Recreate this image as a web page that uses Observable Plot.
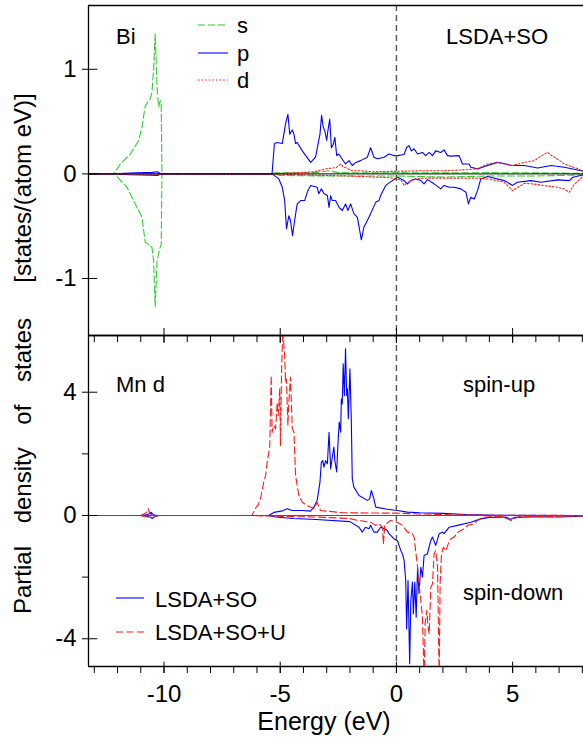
<!DOCTYPE html>
<html><head><meta charset="utf-8">
<script src="https://cdn.jsdelivr.net/npm/d3@7"></script>
<script src="https://cdn.jsdelivr.net/npm/@observablehq/plot@0.6"></script>
<style>
body{margin:0;background:#fff;}
#wrap{position:relative;width:583px;height:737px;overflow:hidden;background:#fff;}
#wrap svg{display:block;}
#overlay{position:absolute;left:0;top:0;pointer-events:none;}
</style></head><body><div id="wrap"></div>
<script>
const FONT = '"Liberation Sans", Arial, Helvetica, sans-serif';

// ---------- axes / ticks ----------
const X_DOMAIN = [-13.25, 8.05];
const X_MAJOR = [-10, -5, 0, 5];
const X_MINOR = [-13,-12,-11,-10,-9,-8,-7,-6,-5,-4,-3,-2,-1,0,1,2,3,4,5,6,7,8];
const BI_Y_DOMAIN = [-1.545, 1.61];
const BI_Y_TICKS = [-1, 0, 1];
const MN_Y_DOMAIN = [-4.9, 5.84];
const MN_Y_TICKS = [-4, 0, 4];
const MN_Y_MINOR = [-2, 2];

// ---------- Bi panel (LSDA+SO) : [energy eV, PDOS] ----------
const bi_s_up = [[-13.25,0],[-12.17,0],[-11.88,0.095],[-11.45,0.19],[-11.09,0.32],[-10.95,0.445],[-10.81,0.65],[-10.59,0.72],[-10.52,0.78],[-10.45,0.99],[-10.38,1.34],[-10.30,0.83],[-10.23,0.64],[-10.16,0.70],[-10.12,0.66],[-10.09,0],[-5.4,0],[-5.2,0.01],[-3.5,0.012],[-2.9,0.03],[-2.5,0.012],[-1,0.01],[0,0.012],[2,0.01],[4,0.012],[6,0.01],[8.05,0.005]];
const bi_s_dn = [[-13.25,0],[-12.14,0],[-11.59,-0.128],[-11.31,-0.255],[-10.95,-0.415],[-10.81,-0.653],[-10.52,-0.70],[-10.45,-0.83],[-10.38,-1.27],[-10.30,-0.83],[-10.19,-0.72],[-10.12,-0.67],[-10.09,0],[-5.4,0],[-5.0,-0.015],[-3.0,-0.02],[0,-0.02],[1,-0.025],[2,-0.03],[4,-0.02],[6,-0.02],[8.05,-0.01]];
const bi_p_up = [[-13.25,0],[-12.1,0],[-11.5,0.008],[-10.5,0.015],[-10.3,0.02],[-10.1,0],[-5.4,0],[-5.35,0.006],[-5.25,0.29],[-5.13,0.30],[-4.91,0.29],[-4.77,0.48],[-4.67,0.57],[-4.59,0.38],[-4.48,0.42],[-4.41,0.38],[-4.34,0.29],[-4.27,0.30],[-4.05,0.22],[-3.69,0.11],[-3.48,0.16],[-3.29,0.38],[-3.22,0.56],[-3.15,0.45],[-3.08,0.41],[-3.00,0.32],[-2.95,0.41],[-2.87,0.525],[-2.80,0.25],[-2.72,0.28],[-2.65,0.35],[-2.57,0.175],[-2.48,0.19],[-2.33,0.14],[-2.19,0.095],[-2.04,0.127],[-1.90,0.08],[-1.75,0.11],[-1.54,0.127],[-1.25,0.16],[-1.11,0.25],[-0.97,0.16],[-0.82,0.145],[-0.53,0.16],[-0.32,0.19],[-0.1,0.175],[0.04,0.175],[0.33,0.185],[0.44,0.255],[0.54,0.27],[0.65,0.22],[0.76,0.24],[0.91,0.19],[1.12,0.205],[1.26,0.175],[1.41,0.205],[1.55,0.175],[1.69,0.22],[1.91,0.205],[2.05,0.23],[2.20,0.175],[2.34,0.17],[2.70,0.175],[2.84,0.095],[3.13,0.095],[3.20,0.064],[3.49,0.048],[3.92,0.08],[4.35,0.11],[4.71,0.095],[4.96,0.08],[5.50,0.08],[6.08,0.057],[6.65,0.08],[7.22,0.064],[7.80,0.038],[8.05,0.025]];
const bi_p_dn = [[-13.25,0],[-12.1,0],[-11.5,-0.008],[-10.5,-0.012],[-10.3,-0.015],[-10.1,0],[-5.4,0],[-5.35,0],[-5.06,-0.048],[-4.91,-0.128],[-4.81,-0.255],[-4.73,-0.525],[-4.63,-0.40],[-4.56,-0.446],[-4.47,-0.59],[-4.38,-0.446],[-4.27,-0.287],[-4.12,-0.255],[-3.95,-0.255],[-3.81,-0.16],[-3.69,-0.11],[-3.41,-0.128],[-3.34,-0.19],[-3.23,-0.143],[-3.11,-0.19],[-2.97,-0.207],[-2.90,-0.32],[-2.83,-0.207],[-2.76,-0.255],[-2.62,-0.255],[-2.47,-0.32],[-2.33,-0.35],[-2.19,-0.287],[-2.09,-0.35],[-1.97,-0.287],[-1.83,-0.38],[-1.68,-0.415],[-1.51,-0.63],[-1.40,-0.51],[-1.25,-0.446],[-1.11,-0.38],[-0.89,-0.27],[-0.75,-0.255],[-0.68,-0.207],[-0.46,-0.11],[-0.17,-0.064],[0.04,-0.032],[0.33,-0.064],[0.47,-0.095],[0.62,-0.064],[0.83,-0.048],[1.05,-0.064],[1.19,-0.095],[1.34,-0.055],[1.62,-0.095],[1.91,-0.143],[2.05,-0.11],[2.27,-0.127],[2.48,-0.127],[2.77,-0.143],[2.99,-0.175],[3.10,-0.287],[3.20,-0.223],[3.35,-0.24],[3.49,-0.16],[3.63,-0.048],[3.92,-0.025],[4.64,-0.064],[5.0,-0.11],[5.2,-0.08],[5.79,-0.064],[6.22,-0.08],[6.94,-0.057],[7.44,-0.064],[7.59,-0.032],[8.05,-0.01]];
const bi_d_up = [[-13.25,0],[-5.4,0],[-4.5,0.01],[-3.55,0.02],[-3.0,0.05],[-2.6,0.06],[-2.4,0.095],[-2.3,0.07],[-2.19,0.06],[-1.9,0.03],[-1.54,0.03],[-1.0,0.02],[0,0.025],[1,0.03],[2,0.03],[3,0.04],[3.5,0.05],[3.92,0.095],[4.35,0.11],[5.0,0.08],[5.5,0.11],[5.94,0.127],[6.15,0.16],[6.5,0.207],[6.65,0.18],[6.94,0.14],[7.22,0.095],[7.8,0.05],[8.05,0.02]];
const bi_d_dn = [[-13.25,0],[-5.4,0],[-4.0,-0.01],[-2.0,-0.02],[-1.0,-0.03],[-0.3,-0.035],[0.2,-0.06],[0.33,-0.11],[0.5,-0.08],[0.8,-0.05],[1.2,-0.04],[2.0,-0.04],[3.0,-0.04],[3.5,-0.04],[4.0,-0.05],[4.64,-0.08],[5.0,-0.16],[5.5,-0.09],[5.9,-0.096],[6.3,-0.11],[6.9,-0.127],[7.2,-0.143],[7.44,-0.175],[7.65,-0.1],[8.05,-0.02]];

// ---------- Mn d panel : [energy eV, PDOS] ----------
const mn_so_up = [[-13.25,0],[-11,0],[-10.7,0.03],[-10.55,0.1],[-10.45,0.02],[-10.3,0],[-5.5,0],[-5.27,0.1],[-4.9,0.15],[-4.70,0.22],[-4.5,0.16],[-4.05,0.16],[-3.7,0.14],[-3.55,0.27],[-3.41,0.49],[-3.29,1.08],[-3.23,1.73],[-3.17,1.78],[-3.12,1.57],[-3.05,1.78],[-2.97,1.68],[-2.90,2.70],[-2.83,1.51],[-2.76,1.89],[-2.69,2.22],[-2.65,1.78],[-2.57,1.41],[-2.52,2.27],[-2.46,3.03],[-2.40,2.70],[-2.37,3.78],[-2.33,3.62],[-2.29,4.92],[-2.24,3.89],[-2.19,5.41],[-2.14,3.89],[-2.11,4.11],[-2.07,3.14],[-2.0,4.76],[-1.94,3.03],[-1.90,1.19],[-1.83,0.92],[-1.61,0.65],[-1.25,0.49],[-1.15,0.54],[-1.08,0.81],[-0.97,0.54],[-0.89,0.27],[-0.4,0.2],[0.04,0.16],[0.47,0.11],[1.0,0.09],[2.0,0.07],[3.0,0.03],[3.5,0.02],[4.5,0.01],[8.05,0]];
const mn_so_dn = [[-13.25,0],[-11,0],[-10.6,-0.05],[-10.5,-0.1],[-10.4,-0.03],[-10.2,0],[-5.5,0],[-5.2,-0.05],[-4.45,-0.1],[-3.45,-0.13],[-2.0,-0.2],[-1.61,-0.38],[-1.47,-0.54],[-1.33,-0.38],[-1.18,-0.43],[-1.11,-0.32],[-0.97,-0.54],[-0.82,-0.54],[-0.68,-0.38],[-0.54,-0.43],[-0.39,-0.49],[-0.32,-0.59],[-0.10,-0.76],[0.04,-0.81],[0.19,-1.14],[0.26,-1.25],[0.33,-1.46],[0.40,-2.11],[0.44,-3.68],[0.50,-2.11],[0.57,-4.81],[0.62,-2.76],[0.69,-2.16],[0.73,-3.19],[0.79,-2.16],[0.85,-3.30],[0.91,-1.68],[0.97,-2.54],[1.05,-1.68],[1.12,-2.0],[1.19,-1.30],[1.33,-1.25],[1.48,-0.81],[1.55,-0.70],[1.69,-0.97],[1.84,-0.59],[1.98,-0.54],[2.05,-0.59],[2.27,-0.38],[2.63,-0.32],[3.20,-0.22],[3.63,-0.11],[4.0,-0.06],[4.7,-0.05],[4.93,-0.12],[5.1,-0.06],[6.0,-0.04],[7.0,-0.05],[8.05,-0.02]];
const mn_u_up = [[-13.25,0],[-11,0],[-10.75,0.1],[-10.68,0.22],[-10.6,0.05],[-10.4,0],[-6.22,0],[-6.05,0.25],[-5.95,0.35],[-5.85,0.55],[-5.71,1.08],[-5.63,1.30],[-5.56,1.73],[-5.49,2.05],[-5.45,2.27],[-5.39,4.54],[-5.35,2.70],[-5.28,2.92],[-5.20,2.81],[-5.13,3.67],[-5.09,3.24],[-5.02,4.11],[-4.99,2.27],[-4.94,4.76],[-4.89,6.0],[-4.81,5.19],[-4.77,4.32],[-4.73,4.43],[-4.67,2.92],[-4.63,3.67],[-4.56,4.49],[-4.48,2.81],[-4.41,2.70],[-4.34,1.30],[-4.27,0.97],[-4.20,0.65],[-4.05,0.43],[-3.84,0.32],[-3.55,0.22],[-3.41,0.42],[-3.26,0.16],[-2.3,0.09],[-1.0,0.08],[0,0.075],[1,0.05],[2,0.03],[3,0.02],[4,0.01],[8.05,0]];
const mn_u_dn = [[-13.25,0],[-11,0],[-10.7,-0.05],[-10.5,-0.08],[-10.3,0],[-6.2,0],[-5.0,-0.03],[-3.4,-0.05],[-2.0,-0.1],[-1.68,-0.16],[-1.11,-0.22],[-0.9,-0.32],[-0.75,-0.27],[-0.6,-0.38],[-0.56,-0.92],[-0.5,-0.3],[-0.43,-0.27],[-0.25,-0.16],[0.04,-0.22],[0.26,-0.32],[0.47,-0.54],[0.69,-0.59],[0.76,-0.70],[0.91,-1.68],[0.97,-2.22],[1.05,-2.76],[1.12,-3.30],[1.19,-5.3],[1.24,-3.5],[1.31,-3.08],[1.36,-3.62],[1.41,-3.84],[1.48,-2.33],[1.55,-2.22],[1.62,-1.25],[1.69,-1.14],[1.77,-1.68],[1.84,-5.3],[1.88,-2.22],[1.94,-1.25],[2.02,-1.03],[2.13,-1.14],[2.23,-0.92],[2.34,-0.76],[2.48,-0.70],[2.63,-0.55],[2.77,-0.49],[2.92,-0.43],[3.06,-0.32],[3.35,-0.27],[3.49,-0.16],[3.78,-0.05],[4.5,-0.03],[4.93,-0.16],[5.07,-0.1],[5.3,-0.03],[6.5,-0.03],[8.05,-0.02]];

const rows = (arr, spin) => arr.map(([E, v]) => ({E, v, spin}));
const pair = (up, dn) => rows(up, "up").concat(rows(dn, "dn"));

const BLACK = "#000";
const lineOpts = (stroke, dash) => ({x: "E", y: "v", z: "spin", stroke, strokeWidth: 1.1, strokeDasharray: dash, clip: true});
const tf = d => String(d);

// ---------- top panel ----------
const topPlot = Plot.plot({
  width: 583, height: 335,
  marginLeft: 88, marginRight: 0, marginTop: 5, marginBottom: 0,
  x: {domain: X_DOMAIN, axis: null},
  y: {domain: BI_Y_DOMAIN, label: null},
  style: {fontFamily: FONT, background: "transparent", overflow: "visible", color: "#000"},
  marks: [
    Plot.line(pair(bi_s_up, bi_s_dn), lineOpts("#33cc33", "7,3")),
    Plot.line(pair(bi_p_up, bi_p_dn), lineOpts("#0000ff", null)),
    Plot.line(pair(bi_d_up, bi_d_dn), lineOpts("#ff2020", "1.6,2")),
    Plot.ruleY([0], {stroke: BLACK, strokeWidth: 1}),
    Plot.ruleX([0], {stroke: "#555", strokeDasharray: "6,4", strokeWidth: 1.4}),
    Plot.ruleX([X_DOMAIN[0]], {stroke: BLACK, strokeWidth: 1.3}),
    Plot.ruleY([BI_Y_DOMAIN[1]], {stroke: BLACK, strokeWidth: 1.3}),
    Plot.ruleY([BI_Y_DOMAIN[0]], {stroke: BLACK, strokeWidth: 1.3}),
    Plot.ruleY(BI_Y_TICKS, {x1: X_DOMAIN[0] - 0.26, x2: X_DOMAIN[0] + 0.4, stroke: BLACK, strokeWidth: 1}),
    Plot.ruleX(X_MAJOR, {y1: BI_Y_DOMAIN[0], y2: BI_Y_DOMAIN[0] + 0.067, stroke: BLACK, strokeWidth: 1}),
    Plot.axisY(BI_Y_TICKS, {tickSize: 0, tickPadding: 12, fontSize: 24, tickFormat: tf, label: null})
  ]
});

// ---------- bottom panel ----------
const botPlot = Plot.plot({
  width: 583, height: 402,
  marginLeft: 88, marginRight: 0, marginTop: 0, marginBottom: 71,
  x: {domain: X_DOMAIN, label: null},
  y: {domain: MN_Y_DOMAIN, label: null},
  style: {fontFamily: FONT, background: "transparent", overflow: "visible", color: "#000"},
  marks: [
    Plot.line(pair(mn_so_up, mn_so_dn), lineOpts("#0000ff", null)),
    Plot.line(pair(mn_u_up, mn_u_dn), lineOpts("#ff1a1a", "7,3.5")),
    Plot.ruleY([0], {stroke: "#555", strokeWidth: 1.2}),
    Plot.ruleX([0], {stroke: "#555", strokeDasharray: "6,4", strokeWidth: 1.4}),
    Plot.ruleX([X_DOMAIN[0]], {stroke: BLACK, strokeWidth: 1.3}),
    Plot.ruleY([MN_Y_DOMAIN[1]], {stroke: BLACK, strokeWidth: 1.3}),
    Plot.ruleY([MN_Y_DOMAIN[0]], {stroke: BLACK, strokeWidth: 1.3}),
    Plot.ruleY(MN_Y_TICKS, {x1: X_DOMAIN[0] - 0.26, x2: X_DOMAIN[0] + 0.4, stroke: BLACK, strokeWidth: 1}),
    Plot.ruleY(MN_Y_MINOR, {x1: X_DOMAIN[0] - 0.26, x2: X_DOMAIN[0], stroke: BLACK, strokeWidth: 1}),
    Plot.ruleX(X_MINOR, {y1: MN_Y_DOMAIN[1], y2: MN_Y_DOMAIN[1] - 0.23, stroke: BLACK, strokeWidth: 1}),
    Plot.ruleX(X_MAJOR, {y1: MN_Y_DOMAIN[1], y2: MN_Y_DOMAIN[1] - 0.26, stroke: BLACK, strokeWidth: 1}),
    Plot.ruleX(X_MINOR, {y1: MN_Y_DOMAIN[0], y2: MN_Y_DOMAIN[0] - 0.227, stroke: BLACK, strokeWidth: 1}),
    Plot.ruleX(X_MAJOR, {y1: MN_Y_DOMAIN[0] + 0.14, y2: MN_Y_DOMAIN[0] - 0.227, stroke: BLACK, strokeWidth: 1}),
    Plot.axisY(MN_Y_TICKS, {tickSize: 0, tickPadding: 12, fontSize: 24, tickFormat: tf, label: null}),
    Plot.axisX(X_MAJOR, {tickSize: 0, tickPadding: 18, fontSize: 24, tickFormat: tf, label: null})
  ]
});

const wrap = document.getElementById("wrap");
wrap.appendChild(topPlot);
wrap.appendChild(botPlot);

// ---------- overlay: labels, annotations, legends ----------
const NS = "http://www.w3.org/2000/svg";
const ov = document.createElementNS(NS, "svg");
ov.setAttribute("id", "overlay");
ov.setAttribute("width", 583); ov.setAttribute("height", 737);
ov.setAttribute("font-family", FONT);
wrap.appendChild(ov);
function txt(x, y, s, size, extra = {}) {
  const t = document.createElementNS(NS, "text");
  t.setAttribute("x", x); t.setAttribute("y", y);
  t.setAttribute("font-size", size); t.setAttribute("fill", "#000");
  for (const k in extra) t.setAttribute(k, extra[k]);
  t.textContent = s; ov.appendChild(t); return t;
}
function seg(x1, x2, y, stroke, dash) {
  const l = document.createElementNS(NS, "line");
  l.setAttribute("x1", x1); l.setAttribute("x2", x2);
  l.setAttribute("y1", y); l.setAttribute("y2", y);
  l.setAttribute("stroke", stroke); l.setAttribute("stroke-width", 1.1);
  if (dash) l.setAttribute("stroke-dasharray", dash);
  ov.appendChild(l);
}
txt(116, 44, "Bi", 22);
txt(446, 44, "LSDA+SO", 22);
seg(198, 228, 25, "#33cc33", "7,3"); txt(237, 33, "s", 22);
seg(198, 228, 53, "#0000ff", null); txt(237, 61, "p", 22);
seg(198, 228, 80, "#ff2020", "1.6,2"); txt(237, 88, "d", 22);
txt(116, 392, "Mn d", 22);
txt(463, 392, "spin-up", 22);
txt(463, 600, "spin-down", 22);
seg(116, 144, 598, "#0000ff", null); txt(155, 607, "LSDA+SO", 22);
seg(116, 144, 632, "#ff1a1a", "7,3.5"); txt(155, 640, "LSDA+SO+U", 22);
txt(324, 730, "Energy (eV)", 25, {"text-anchor": "middle"});
txt(0, 0, "[states/(atom eV)]", 24, {"text-anchor": "middle", transform: "translate(31,188) rotate(-90)"});
txt(0, 0, "Partial density of states", 24, {"text-anchor": "middle", "word-spacing": "16px", transform: "translate(31,466) rotate(-90)"});
</script></body></html>
